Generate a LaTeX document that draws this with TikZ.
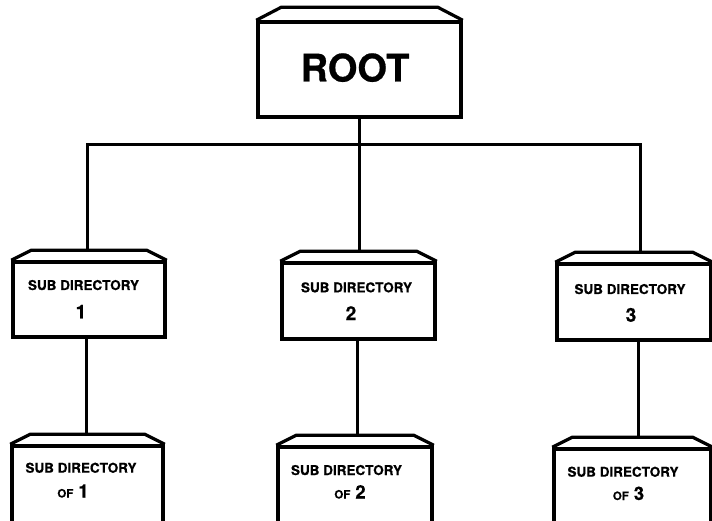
\documentclass[tikz,border=0pt]{standalone}
\usepackage{fontspec}
\setmainfont[BoldFeatures={FakeBold=0.6}]{TeX Gyre Heros}
\tikzset{
  dirbox/.style={draw, line width=3.5pt, rectangle, inner sep=0pt},
  lidline/.style={line width=3.2pt},
  link/.style={line width=3pt},
  roottext/.style={font=\fontsize{38}{40}\selectfont\bfseries, anchor=base, inner sep=0pt},
  boxtitle/.style={font=\fontsize{13.5}{16}\selectfont\bfseries, anchor=base, inner sep=0pt},
  boxnum/.style={font=\fontsize{19}{21}\selectfont\bfseries, anchor=base, inner sep=0pt},
  ofnum/.style={font=\bfseries, anchor=base, inner sep=0pt},
}
% lid on top of a box: node, inset, height
\newcommand{\drawlid}[3]{\draw[lidline] (#1.north west) -- ++(#2pt,#3pt) -- ([xshift=-#2pt,yshift=#3pt]#1.north east) -- (#1.north east);}
\newcommand{\oflabel}[1]{{\fontsize{11.5}{13}\selectfont OF}\hspace{5pt}{\fontsize{18.5}{20}\selectfont #1}}
\begin{document}
\begin{tikzpicture}[x=1pt,y=-1pt]
  \useasboundingbox (0,0) rectangle (712,521);

  % boxes
  \node [dirbox, minimum width=203pt, minimum height=95pt] (root) at (359.5,69.5) {};
  \drawlid{root}{25}{13}

  \node [dirbox, minimum width=152pt, minimum height=75pt] (sub1) at (89,299.5) {};
  \node [dirbox, minimum width=153pt, minimum height=76pt] (sub2) at (358.5,301) {};
  \node [dirbox, minimum width=154pt, minimum height=76pt] (sub3) at (634,302) {};

  \node [dirbox, minimum width=151pt, minimum height=84pt] (leaf1) at (87.5,488) {};
  \node [dirbox, minimum width=154pt, minimum height=84pt] (leaf2) at (355,489) {};
  \node [dirbox, minimum width=157pt, minimum height=84pt] (leaf3) at (632.5,491) {};

  \foreach \n in {sub1,sub2,sub3,leaf1,leaf2,leaf3}
    \drawlid{\n}{20}{10};

  % texts
  \node [roottext] (roottxt) at (355,81.5) {ROOT};

  \node [boxtitle] (sub1txt) at (83.5,290) {SUB DIRECTORY};
  \node [boxnum] (sub1num) at (81,318.3) {1};
  \node [boxtitle] (sub2txt) at (356.5,292.3) {SUB DIRECTORY};
  \node [boxnum] (sub2num) at (351,320) {2};
  \node [boxtitle] (sub3txt) at (630,294) {SUB DIRECTORY};
  \node [boxnum] (sub3num) at (631,321.7) {3};

  \node [boxtitle] (leaf1txt) at (81,472.7) {SUB DIRECTORY};
  \node [ofnum] (leaf1num) at (73,497.5) {\oflabel{1}};
  \node [boxtitle] (leaf2txt) at (346.5,475) {SUB DIRECTORY};
  \node [ofnum] (leaf2num) at (350,498.5) {\oflabel{2}};
  \node [boxtitle] (leaf3txt) at (623,476.7) {SUB DIRECTORY};
  \node [ofnum] (leaf3num) at (628.5,500) {\oflabel{3}};

  % connectors
  \coordinate (bus) at (359,145);
  \coordinate (sub1-top) at ([xshift=-2pt,yshift=10pt]sub1.north);
  \coordinate (sub2-top) at ([yshift=10pt]sub2.north);
  \coordinate (sub3-top) at ([xshift=6pt,yshift=10pt]sub3.north);
  \coordinate (leaf1-top) at ([xshift=-1.5pt,yshift=10pt]leaf1.north);
  \coordinate (leaf2-top) at ([xshift=2.5pt,yshift=10pt]leaf2.north);
  \coordinate (leaf3-top) at ([xshift=5.5pt,yshift=10pt]leaf3.north);

  \draw [link] (root.south) -- (root.south |- sub2-top);
  \draw [link] (sub1-top) |- (bus) -| (sub3-top);
  \foreach \i in {1,2,3}
    \draw [link] (leaf\i-top |- sub\i.south) -- (leaf\i-top);
\end{tikzpicture}
\end{document}
